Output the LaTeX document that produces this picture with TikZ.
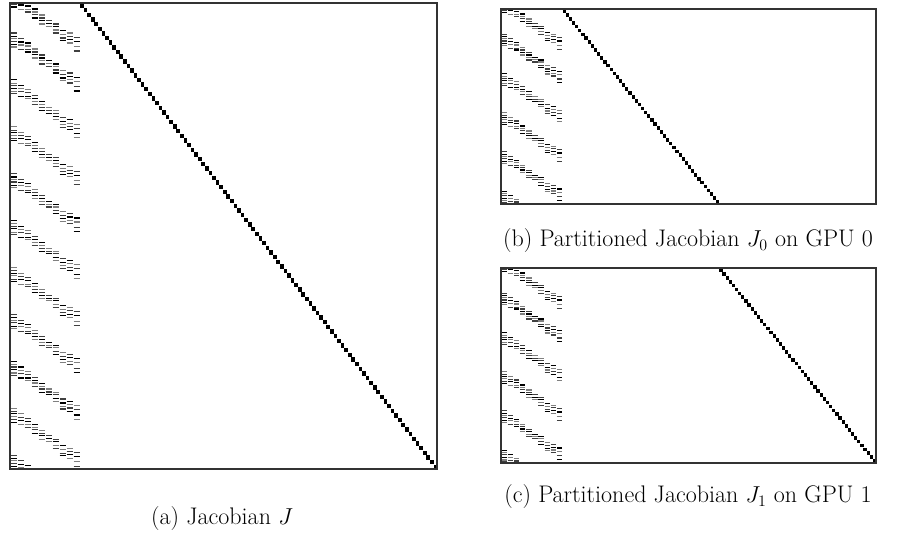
\documentclass[tikz,border=0pt]{standalone}
\usetikzlibrary{calc}
\tikzset{
  spyframe/.style={draw=black!80, line width=0.9pt},
  spydash/.style={line width=0.85pt},
  spydot/.style={fill=black, draw=none},
  spycaption/.style={font=\fontsize{18}{21}\selectfont, inner sep=0pt}
}
\def\patt{0/0,0/3.3,0/5.7,0/8.3,0/11.7,0/14,1/5.7,1/9,1/12,1/16.7,2/10,2/13,2/16.7,2/19,3/16,3/19,3/21.7,3/25,4/22,4/25,4/27.7,4/31,5/27.7,5/30.7,5/33.3,6/31,6/33.3,6/37,6/40,7/37.7,7/41.7,7/45,7/47.7,8/40,8/43.3,8/46.7,8/50,9/44.3,9/48.3,9/53.7,9/58}
% #1 kmin, #2 kmax
\newcommand{\leftpat}[2]{%
  \foreach \k in {#1,...,#2}{%
    \ifnum\k=0 \def\yz{-10}\else\pgfmathsetmacro{\yz}{-16.9+46.9*\k}\fi
    \foreach \c/\r [count=\n] in \patt{%
      \pgfmathtruncatemacro{\m}{mod(\n+\k,3)}%
      \ifcase\m\def\dc{black}\or\def\dc{black!50}\else\def\dc{black!75}\fi
      \draw[spydash,draw=\dc] ({7*\c+0.6},{\yz+\r}) -- ({7*\c+6.8},{\yz+\r});
    }%
  }%
}
% #1 first index, #2 last index, #3 row offset
\newcommand{\diagdots}[3]{%
  \foreach \i in {#1,...,#2}{%
    \fill[spydot] ({70+3.57*\i+0.1},{4.66*(\i-#3)+0.2}) rectangle ++(3.7,4.4);
  }%
}
\begin{document}
\begin{tikzpicture}[x=0.75pt,y=-0.75pt]
\useasboundingbox (0,0) rectangle (899,533);
% (a) main Jacobian
\begin{scope}[shift={(10,3)}]
  \begin{scope}
    \clip (0,0) rectangle (427,466);
    \leftpat{0}{10}
    \diagdots{0}{99}{0}
  \end{scope}
  \draw[spyframe] (0,0) rectangle (427,466);
\end{scope}
% (b) J0
\begin{scope}[shift={(501,9)}, xscale=0.878, yscale=0.837]
  \begin{scope}
    \clip (0,0) rectangle (427,233);
    \leftpat{0}{5}
    \diagdots{0}{49}{0}
  \end{scope}
  \draw[spyframe] (0,0) rectangle (427,233);
\end{scope}
% (c) J1
\begin{scope}[shift={(501,268)}, xscale=0.878, yscale=0.837]
  \begin{scope}
    \clip (0,0) rectangle (427,233);
    \leftpat{0}{5}
    \diagdots{50}{99}{50}
  \end{scope}
  \draw[spyframe] (0,0) rectangle (427,233);
\end{scope}
\node[spycaption] (capa) at (222,519) {(a) Jacobian $J$};
\node[spycaption] (capb) at (688,241) {(b) Partitioned Jacobian $J_0$ on GPU 0};
\node[spycaption] (capc) at (688,497) {(c) Partitioned Jacobian $J_1$ on GPU 1};
\end{tikzpicture}
\end{document}
